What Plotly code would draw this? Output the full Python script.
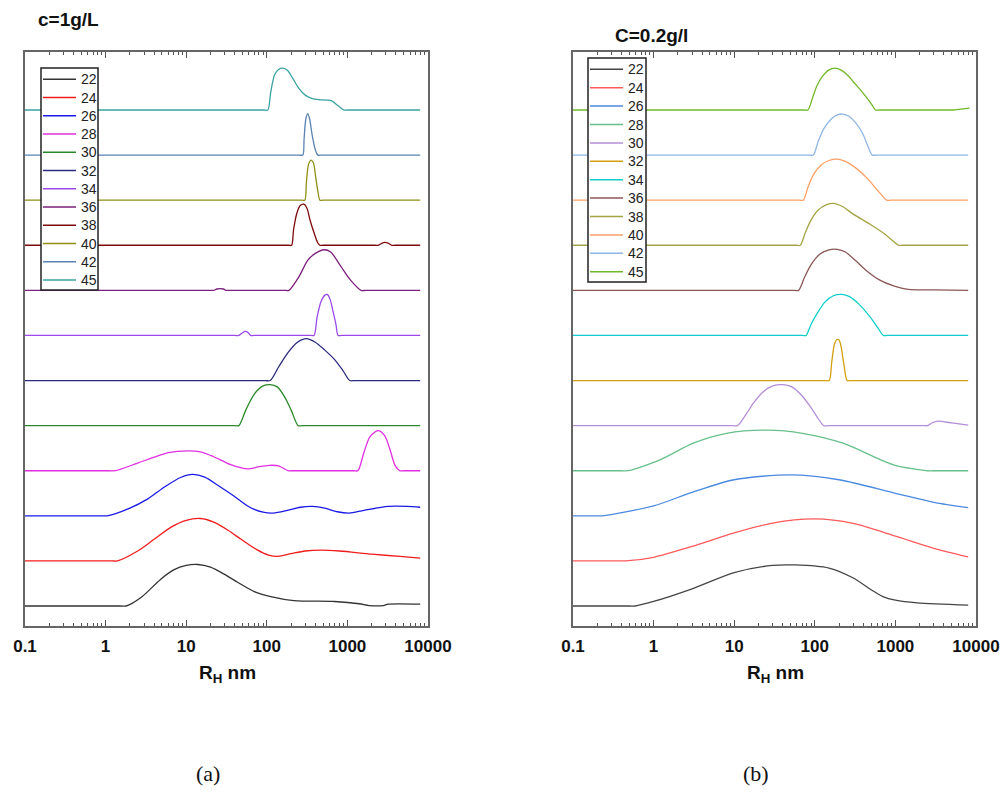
import plotly.graph_objects as go

# Temperatures (°C), stacked bottom to top
TEMPS = [22, 24, 26, 28, 30, 32, 34, 36, 38, 40, 42, 45]

# ---- c = 1 g/L : hydrodynamic radius (nm) and normalised intensity ----
a22_rh = [0.1, 1.5, 1.8, 2.8, 4.8, 7, 10, 14, 20, 30, 44, 70, 112, 217, 690, 1400, 1860, 2800, 3200, 8000]
a22_i = [0, 0, 0, 0.2, 0.59, 0.8, 0.9, 0.92, 0.86, 0.7, 0.52, 0.32, 0.21, 0.12, 0.1, 0.05, 0.01, 0.01, 0.04, 0.04]
a24_rh = [0.1, 1.2, 1.4, 2.5, 4, 6.5, 10, 15, 22, 33, 48, 75, 105, 137, 200, 300, 470, 800, 2000, 4500, 8000]
a24_i = [0, 0, 0, 0.22, 0.48, 0.75, 0.9, 0.94, 0.86, 0.68, 0.48, 0.25, 0.13, 0.1, 0.16, 0.22, 0.24, 0.22, 0.15, 0.1, 0.06]
a26_rh = [0.1, 0.9, 1.05, 2, 3.3, 5.5, 8.5, 12, 17, 26, 39, 60, 90, 120, 180, 260, 372, 520, 750, 1050, 1600, 3200, 5500, 8000]
a26_i = [0, 0, 0, 0.17, 0.37, 0.65, 0.85, 0.92, 0.86, 0.65, 0.44, 0.2, 0.08, 0.06, 0.12, 0.19, 0.21, 0.17, 0.09, 0.06, 0.12, 0.21, 0.21, 0.19]
a28_rh = [0.1, 1.1, 1.32, 2.5, 4, 6, 10.5, 15, 22, 35, 58, 80, 107, 140, 183, 200, 1200, 1350, 1600, 1900, 2400, 2900, 3400, 3900, 4450, 5000, 8000]
a28_i = [0, 0, 0, 0.17, 0.3, 0.4, 0.44, 0.42, 0.31, 0.14, 0.04, 0.09, 0.12, 0.11, 0, 0, 0, 0, 0.4, 0.75, 0.89, 0.78, 0.45, 0.12, 0, 0, 0]
a30_rh = [0.1, 40, 45, 55, 70, 90, 110, 135, 165, 200, 245, 280, 8000]
a30_i = [0, 0, 0, 0.35, 0.7, 0.88, 0.91, 0.86, 0.65, 0.35, 0, 0, 0]
a32_rh = [0.1, 95, 110, 140, 183, 240, 309, 400, 520, 690, 880, 1070, 1250, 8000]
a32_i = [0, 0, 0, 0.3, 0.62, 0.85, 0.93, 0.85, 0.68, 0.47, 0.22, 0, 0, 0]
a34_rh = [0.1, 40, 45, 50, 54, 58, 63, 70, 350, 386, 420, 470, 530, 562, 610, 660, 720, 767, 850, 8000]
a34_i = [0, 0, 0, 0.06, 0.09, 0.07, 0, 0, 0, 0, 0.4, 0.75, 0.9, 0.91, 0.8, 0.55, 0.25, 0, 0, 0]
a36_rh = [0.1, 20, 22, 24, 29, 31, 34, 170, 188, 250, 323, 400, 513, 620, 830, 1100, 1480, 1700, 8000]
a36_i = [0, 0, 0, 0.03, 0.03, 0, 0, 0, 0, 0.3, 0.67, 0.82, 0.9, 0.85, 0.53, 0.22, 0, 0, 0]
a38_rh = [0.1, 185, 203, 215, 235, 260, 288, 315, 345, 390, 430, 456, 500, 2200, 2400, 2800, 3200, 3560, 3900, 8000]
a38_i = [0, 0, 0, 0.35, 0.7, 0.88, 0.91, 0.82, 0.55, 0.25, 0.05, 0, 0, 0, 0, 0.06, 0.05, 0, 0, 0]
a40_rh = [0.1, 270, 296, 310, 330, 355, 380, 405, 430, 456, 500, 8000]
a40_i = [0, 0, 0, 0.4, 0.8, 0.89, 0.82, 0.5, 0.2, 0, 0, 0]
a42_rh = [0.1, 255, 280, 290, 305, 322, 340, 365, 400, 430, 470, 8000]
a42_i = [0, 0, 0, 0.35, 0.8, 0.92, 0.8, 0.45, 0.12, 0, 0, 0]
a45_rh = [0.1, 92, 103, 112, 125, 140, 158, 180, 210, 250, 300, 360, 440, 550, 640, 760, 900, 1000, 8000]
a45_i = [0, 0, 0, 0.4, 0.78, 0.9, 0.93, 0.88, 0.7, 0.48, 0.33, 0.26, 0.23, 0.22, 0.2, 0.1, 0, 0, 0]

# ---- c = 0.2 g/L ----
b22_rh = [0.1, 0.5, 0.59, 1, 3, 10, 30, 57, 150, 300, 500, 700, 1000, 1860, 8000]
b22_i = [0, 0, 0, 0.1, 0.38, 0.74, 0.9, 0.91, 0.84, 0.62, 0.36, 0.21, 0.13, 0.07, 0.02]
b24_rh = [0.1, 0.38, 0.45, 1, 3, 10, 30, 100, 300, 1000, 3000, 8000]
b24_i = [0, 0, 0, 0.08, 0.32, 0.62, 0.84, 0.93, 0.83, 0.55, 0.28, 0.09]
b26_rh = [0.1, 0.19, 0.23, 1, 3, 10, 50, 200, 1000, 3000, 8000]
b26_i = [0, 0, 0, 0.22, 0.52, 0.8, 0.91, 0.8, 0.5, 0.3, 0.18]
b28_rh = [0.1, 0.4, 0.48, 1.2, 3.1, 8, 26, 70, 224, 950, 2500, 3000, 8000]
b28_i = [0, 0, 0, 0.24, 0.61, 0.83, 0.9, 0.83, 0.61, 0.13, 0, 0, 0]
b30_rh = [0.1, 9.5, 11, 14, 17.5, 23, 30, 40, 52, 68, 88, 108, 129, 150, 2200, 2500, 2900, 3400, 5000, 8000]
b30_i = [0, 0, 0, 0.25, 0.51, 0.75, 0.88, 0.91, 0.86, 0.68, 0.42, 0.18, 0, 0, 0, 0, 0.07, 0.1, 0.06, 0.01]
b32_rh = [0.1, 135, 151, 162, 175, 188, 200, 212, 230, 252, 280, 8000]
b32_i = [0, 0, 0, 0.4, 0.8, 0.91, 0.9, 0.75, 0.35, 0, 0, 0]
b34_rh = [0.1, 70, 78, 90, 107, 135, 170, 218, 270, 350, 490, 600, 710, 800, 8000]
b34_i = [0, 0, 0, 0.25, 0.49, 0.75, 0.88, 0.91, 0.86, 0.7, 0.4, 0.18, 0, 0, 0]
b36_rh = [0.1, 56, 63, 75, 90, 115, 150, 190, 240, 320, 450, 650, 950, 1440, 3000, 8000]
b36_i = [0, 0, 0, 0.3, 0.57, 0.8, 0.9, 0.91, 0.85, 0.66, 0.42, 0.22, 0.1, 0.02, 0.01, 0]
b38_rh = [0.1, 58, 66, 76, 88, 110, 140, 170, 220, 300, 490, 750, 1100, 1250, 8000]
b38_i = [0, 0, 0, 0.27, 0.53, 0.78, 0.9, 0.93, 0.86, 0.69, 0.46, 0.24, 0, 0, 0]
b40_rh = [0.1, 64, 72, 82, 96, 120, 150, 190, 240, 330, 445, 600, 780, 880, 8000]
b40_i = [0, 0, 0, 0.28, 0.56, 0.78, 0.88, 0.91, 0.86, 0.7, 0.49, 0.22, 0, 0, 0]
b42_rh = [0.1, 86, 96, 110, 129, 160, 190, 224, 265, 320, 390, 450, 515, 580, 8000]
b42_i = [0, 0, 0, 0.3, 0.58, 0.8, 0.89, 0.91, 0.86, 0.72, 0.49, 0.22, 0, 0, 0]
b45_rh = [0.1, 73, 82, 95, 107, 125, 150, 178, 215, 260, 302, 370, 450, 510, 565, 640, 4600, 5200, 6500, 8300]
b45_i = [0, 0, 0, 0.3, 0.55, 0.75, 0.89, 0.93, 0.88, 0.76, 0.62, 0.44, 0.25, 0.12, 0, 0, 0, 0, 0.02, 0.04]

SERIES_A = [(a22_rh, a22_i), (a24_rh, a24_i), (a26_rh, a26_i), (a28_rh, a28_i),
            (a30_rh, a30_i), (a32_rh, a32_i), (a34_rh, a34_i), (a36_rh, a36_i),
            (a38_rh, a38_i), (a40_rh, a40_i), (a42_rh, a42_i), (a45_rh, a45_i)]
SERIES_B = [(b22_rh, b22_i), (b24_rh, b24_i), (b26_rh, b26_i), (b28_rh, b28_i),
            (b30_rh, b30_i), (b32_rh, b32_i), (b34_rh, b34_i), (b36_rh, b36_i),
            (b38_rh, b38_i), (b40_rh, b40_i), (b42_rh, b42_i), (b45_rh, b45_i)]

COLORS_A = ["#333333", "#f01c1c", "#1a1ae6", "#e030e0", "#2a8a2a", "#2a2a80",
            "#9a48ec", "#7d1f7d", "#7d0a0a", "#8f8f14", "#5a82b4", "#3aa2a2"]
COLORS_B = ["#444444", "#ff5a5a", "#4a8ae0", "#66c08a", "#b48ed8", "#d4a010",
            "#10cccc", "#8a5656", "#a4a444", "#ffa066", "#8fb6e4", "#72b828"]

TICK_VALS = [0.1, 1, 10, 100, 1000, 10000]
TICK_TEXT = ["0.1", "1", "10", "100", "1000", "10000"]
MINOR_VALS = [m * 10 ** e for e in range(-1, 4) for m in range(2, 10)]

W, H = 1006, 796


def px(x):
    return x / W


def py(y):
    return 1 - y / H


fig = go.Figure()

for idx, ((rh, inten), col, t) in enumerate(zip(SERIES_A, COLORS_A, TEMPS)):
    fig.add_trace(go.Scatter(x=rh, y=[idx + v for v in inten], mode="lines",
                             line=dict(color=col, width=1.3, shape="spline", smoothing=0.8),
                             name=str(t), showlegend=False, xaxis="x", yaxis="y"))
for idx, ((rh, inten), col, t) in enumerate(zip(SERIES_B, COLORS_B, TEMPS)):
    fig.add_trace(go.Scatter(x=rh, y=[idx + v for v in inten], mode="lines",
                             line=dict(color=col, width=1.3, shape="spline", smoothing=0.8),
                             name=str(t), showlegend=False, xaxis="x2", yaxis="y2"))

tickfont = dict(family="Liberation Sans, Arial, sans-serif", size=17, color="#111", weight="bold")
xcommon = dict(type="log", range=[-1, 4], tickmode="array", tickvals=TICK_VALS, ticktext=TICK_TEXT,
               ticks="inside", ticklen=6, tickwidth=1, tickcolor="#555",
               minor=dict(tickmode="array", tickvals=MINOR_VALS, ticks="inside", ticklen=3, tickcolor="#555"),
               showline=True, linecolor="#666", linewidth=1.5, mirror="ticks", automargin=False,
               showgrid=False, zeroline=False, tickfont=tickfont, ticklabelstandoff=4)
ycommon = dict(range=[-0.4435, 12.286], showticklabels=False, ticks="", showgrid=False, automargin=False,
               zeroline=False, showline=True, linecolor="#666", linewidth=1.5, mirror=True)

ydom = [py(626), py(52)]
fig.update_layout(
    width=W, height=H, margin=dict(l=0, r=0, t=0, b=0, autoexpand=False),
    paper_bgcolor="white", plot_bgcolor="white", showlegend=False,
    xaxis=dict(domain=[px(25), px(428)], anchor="y", **xcommon),
    yaxis=dict(domain=ydom, anchor="x", **ycommon),
    xaxis2=dict(domain=[px(573), px(976)], anchor="y2", **xcommon),
    yaxis2=dict(domain=ydom, anchor="x2", **ycommon),
)

shapes = []
annotations = []
legend_font = dict(family="Liberation Sans, Arial, sans-serif", size=14, color="#222")

# Hand-placed legends: (box, line x-range, text x, first row y, row step, colours)
legends = [
    ((41, 68, 98, 290), (43, 76), 79, 79.3, 18.25, COLORS_A),
    ((588, 58, 646, 282), (590, 623), 626, 69.3, 18.4, COLORS_B),
]
for (bx0, by0, bx1, by1), (lx0, lx1), tx, y0, step, cols in legends:
    shapes.append(dict(type="rect", xref="paper", yref="paper", x0=px(bx0), x1=px(bx1),
                       y0=py(by1), y1=py(by0), line=dict(color="#222", width=1.5),
                       fillcolor="white", layer="above"))
    for k, (t, c) in enumerate(zip(TEMPS, cols)):
        yy = y0 + k * step
        shapes.append(dict(type="line", xref="paper", yref="paper", x0=px(lx0), x1=px(lx1),
                           y0=py(yy), y1=py(yy), line=dict(color=c, width=1.5), layer="above"))
        annotations.append(dict(text=str(t), x=px(tx), y=py(yy), xref="paper", yref="paper",
                                xanchor="left", yanchor="middle", showarrow=False, font=legend_font))

title_font = dict(family="Liberation Sans, Arial, sans-serif", size=19, color="#111", weight="bold")
annotations += [
    dict(text="c=1g/L", x=px(36), y=py(19), xref="paper", yref="paper", xanchor="left",
         yanchor="middle", showarrow=False, font=title_font),
    dict(text="C=0.2g/l", x=px(613), y=py(35), xref="paper", yref="paper", xanchor="left",
         yanchor="middle", showarrow=False, font=title_font),
    dict(text="R<sub>H</sub> nm", x=px(227), y=py(674), xref="paper", yref="paper",
         xanchor="center", yanchor="middle", showarrow=False, font=dict(title_font, size=19)),
    dict(text="R<sub>H</sub> nm", x=px(775), y=py(674), xref="paper", yref="paper",
         xanchor="center", yanchor="middle", showarrow=False, font=dict(title_font, size=19)),
    dict(text="(a)", x=px(208), y=py(773), xref="paper", yref="paper", xanchor="center",
         yanchor="middle", showarrow=False,
         font=dict(family="Liberation Serif, Times New Roman, serif", size=22, color="#111")),
    dict(text="(b)", x=px(756), y=py(773), xref="paper", yref="paper", xanchor="center",
         yanchor="middle", showarrow=False,
         font=dict(family="Liberation Serif, Times New Roman, serif", size=22, color="#111")),
]

fig.update_layout(shapes=shapes, annotations=annotations)
fig.write_html("out.html")
